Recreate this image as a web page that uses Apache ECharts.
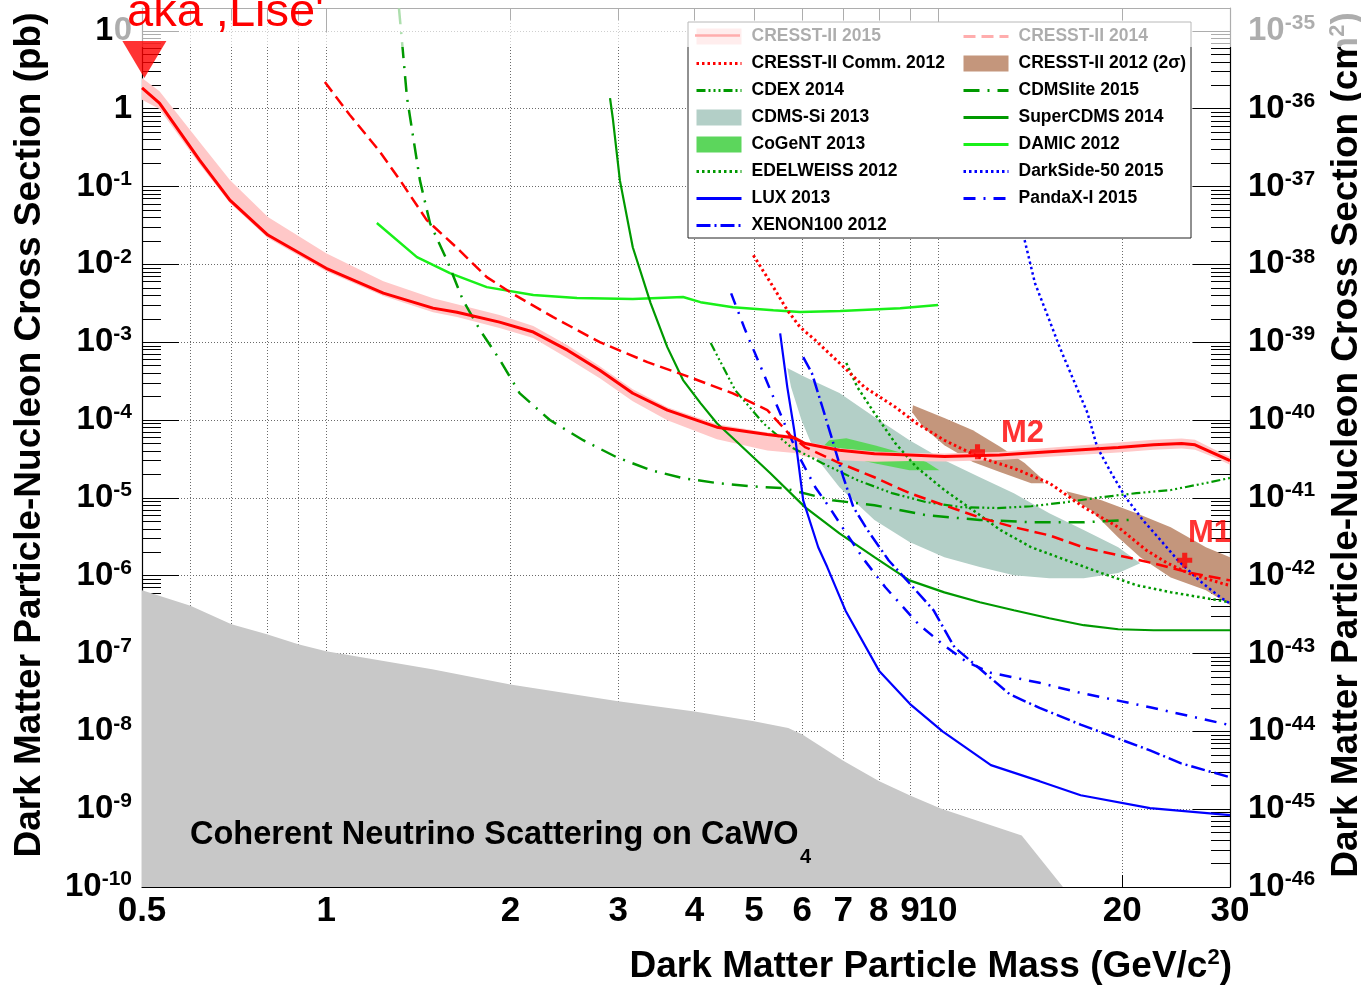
<!DOCTYPE html>
<html><head><meta charset="utf-8">
<script src="https://cdn.jsdelivr.net/npm/echarts@6/dist/echarts.min.js"></script>
<style>html,body{margin:0;padding:0;background:#fff}#c{width:1361px;height:986px}</style>
</head><body><div id="c"></div>
<script>
// ---------- axis ticks / labels ----------
const xLabelValues = [0.5,1,2,3,4,5,6,7,8,9,10,20,30];
const xLabelTexts = ['0.5','1','2','3','4','5','6','7','8','9','10','20','30'];
const xGridValues = [0.6,0.7,0.8,0.9,1,2,3,4,5,6,7,8,9,10,20];
const xMajorTickValues = [1,10];
const yDecadeExponents = [-10,-9,-8,-7,-6,-5,-4,-3,-2,-1,0,1];
const yTopValue = 19.68;          // pb at upper frame
const cm2ExponentOffset = -36;    // 1 pb = 1e-36 cm^2

// ---------- data (mass GeV/c^2, cross section pb) ----------
const cresst2015Mass = [0.5,0.534,0.621,0.696,0.803,1.0,1.24,1.495,1.636,1.92,2.18,2.48,2.80,3.17,3.61,4.35,5.26,5.82,6.06,6.9,7.87,8.98,10.24,12.6,15.2,19.7,22.5,25.0,26.3,28.3,30];
const cresst2015Sigma = [1.85,1.18,0.219,0.067,0.0238,0.0089,0.00427,0.00274,0.00243,0.00181,0.00135,7.9e-4,4.37e-4,2.21e-4,1.34e-4,8.1e-5,6.5e-5,5.9e-5,5.0e-5,4.1e-5,3.7e-5,3.55e-5,3.4e-5,3.55e-5,3.9e-5,4.45e-5,4.8e-5,5.0e-5,4.8e-5,3.7e-5,3.0e-5];
const cresst2015BandHigh = [2.49,1.68,0.373,0.121,0.0406,0.0139,0.00609,0.00368,0.00308,0.00223,0.00161,9.16e-4,4.92e-4,2.49e-4,1.46e-4,8.85e-5,6.9e-5,6.26e-5,5.3e-5,4.35e-5,3.93e-5,3.77e-5,3.72e-5,3.88e-5,4.39e-5,5.16e-5,5.56e-5,5.8e-5,5.56e-5,4.17e-5,3.38e-5];
const cresst2015BandLow = [1.30,0.988,0.194,0.0613,0.0218,0.00814,0.00391,0.00243,0.0021,0.00152,0.00113,6.24e-4,3.45e-4,1.74e-4,9.97e-5,5.68e-5,4.05e-5,3.78e-5,3.4e-5,3.05e-5,2.92e-5,2.97e-5,2.93e-5,3.06e-5,3.37e-5,3.84e-5,4.14e-5,4.31e-5,4.14e-5,3.29e-5,2.66e-5];

const cresst2014Mass = [0.995,1.093,1.22,1.32,1.46,1.63,1.83,2.01,2.35,2.80,3.35,3.93,4.62,5.26,5.73,6.06,6.90,7.87,8.98,10.24,11.7,13.3,15.2,17.3,19.7,22.5,25.7,30];
const cresst2014Sigma = [2.2,0.83,0.29,0.121,0.037,0.0167,0.00686,0.00427,0.0021,0.001,5.55e-4,3.55e-4,2.2e-4,1.34e-4,6.4e-5,4.5e-5,2.8e-5,1.84e-5,1.15e-5,8.0e-6,5.6e-6,4.2e-6,3.3e-6,2.3e-6,1.83e-6,1.44e-6,1.1e-6,8.7e-7];

const commMass = [4.99,5.38,5.67,5.95,6.30,6.90,7.58,8.51,9.22,10.24,11.7,13.3,15.2,17.3,19.7,21.9,23.7,25.7,29.2,30];
const commSigma = [0.0131,0.0051,0.00258,0.00156,0.00106,5.4e-4,2.65e-4,1.47e-4,9.1e-5,5.5e-5,3.3e-5,2.4e-5,1.55e-5,7.6e-6,4.2e-6,2.12e-6,1.45e-6,1.07e-6,7.9e-7,7.5e-7];

const m2RegionMass = [9.10,10.24,11.4,12.65,13.85,14.7,14.9,14.2,12.65,11.4,10.24,9.46,9.07];
const m2RegionSigma = [1.55e-4,1.06e-4,7.4e-5,4.5e-5,2.8e-5,1.84e-5,1.54e-5,1.54e-5,2.14e-5,2.88e-5,4.75e-5,8.1e-5,1.26e-4];
const m1RegionMass = [16.2,18.5,21.1,24.0,27.4,30,30,27.4,24.0,21.4,19.7,17.8,16.4];
const m1RegionSigma = [1.22e-5,9.3e-6,6.35e-6,4.2e-6,2.32e-6,1.73e-6,4.2e-7,6.5e-7,9.5e-7,1.73e-6,3.1e-6,6.9e-6,1.02e-5];
const bestFitMass = [11.6,25.3];
const bestFitSigma = [3.9e-5,1.58e-6];
const bestFitLabels = ['M2','M1'];

const cdmsSiMass = [5.67,6.06,6.90,7.87,8.98,10.24,11.7,13.3,15.2,17.3,19.7,21.4,19.7,17.3,15.2,13.3,11.7,10.24,8.98,7.87,6.90,6.37,5.98,5.75];
const cdmsSiSigma = [4.65e-4,3.56e-4,2.22e-4,1.09e-4,5.5e-5,3.05e-5,1.84e-5,1.15e-5,6.35e-6,3.85e-6,2.32e-6,1.45e-6,1.08e-6,9.3e-7,9.3e-7,1.01e-6,1.29e-6,1.73e-6,2.7e-6,5.2e-6,1.37e-5,3.05e-5,1.0e-4,2.65e-4];

const cogentMass = [6.64,7.08,7.87,8.74,9.57,10.05,8.98,7.87,7.08,6.64,6.47];
const cogentSigma = [5.5e-5,5.85e-5,4.75e-5,3.76e-5,2.88e-5,2.27e-5,2.27e-5,2.79e-5,3.34e-5,3.87e-5,4.48e-5];

const cdexMass = [4.25,4.66,5.18,5.75,6.47,7.38,8.41,9.57,10.9,12.5,14.2,16.2,18.5,21.1,24.0,27.4,30];
const cdexSigma = [9.75e-4,2.42e-4,9.1e-5,4.49e-5,2.79e-5,1.69e-5,1.15e-5,8.8e-6,7.6e-6,7.4e-6,7.8e-6,8.8e-6,1.02e-5,1.15e-5,1.26e-5,1.55e-5,1.8e-5];

const cdmsliteMass = [1.315,1.334,1.355,1.423,1.478,1.575,1.673,1.784,1.923,2.07,2.32,2.63,2.98,3.39,3.83,4.35,4.93,5.60,6.72,7.87,9.57,11.7,14.2,17.3,20.5];
const cdmsliteSigma = [19.5,5.68,1.41,0.12,0.0337,0.01135,0.00348,0.00143,5.9e-4,2.22e-4,1.0e-4,5.5e-5,3.34e-5,2.27e-5,1.79e-5,1.55e-5,1.41e-5,1.33e-5,9.3e-6,8.05e-6,5.98e-6,5.2e-6,4.87e-6,4.87e-6,5.2e-6];

const superCdmsMass = [2.91,2.94,3.02,3.17,3.39,3.61,3.83,4.09,4.35,4.66,5.32,6.06,6.90,7.87,8.98,10.24,11.7,13.3,15.2,17.3,19.7,22.5,30];
const superCdmsSigma = [1.37,0.76,0.12,0.0166,0.00318,8.65e-4,3.26e-4,1.65e-4,9.1e-5,5.5e-5,2.07e-5,7.6e-6,3.5e-6,1.73e-6,8.7e-7,6.1e-7,4.56e-7,3.6e-7,2.84e-7,2.31e-7,2.05e-7,1.99e-7,1.99e-7];

const damicMass = [1.21,1.407,1.593,1.83,2.18,2.57,3.17,3.83,4.09,4.62,5.38,5.95,6.92,8.67,10.0];
const damicSigma = [0.034,0.0124,0.0077,0.0051,0.00403,0.00369,0.00358,0.0038,0.00327,0.00282,0.00258,0.00244,0.00251,0.00274,0.003];

const edelweissMass = [7.08,7.38,7.87,8.51,9.22,10.24,11.4,12.65,14.2,16.2,18.5,21.1,24.0,27.4,30];
const edelweissSigma = [5.4e-4,2.65e-4,1.23e-4,5.05e-5,2.48e-5,1.26e-5,6.95e-6,3.85e-6,2.32e-6,1.58e-6,1.08e-6,7.55e-7,6.14e-7,5.14e-7,4.56e-7];

const luxMass = [5.52,5.67,5.82,6.02,6.37,6.59,7.06,8.02,9.0,10.17,12.2,14.65,17.1,22.2,30];
const luxSigma = [0.0013,2.65e-4,7.4e-5,9.3e-6,2.32e-6,1.29e-6,3.55e-7,5.9e-8,2.24e-8,1.0e-8,3.68e-9,2.29e-9,1.51e-9,1.03e-9,8.4e-10];

const xenonMass = [6.02,6.22,6.47,6.72,7.0,7.27,7.67,8.30,8.98,9.83,10.64,11.65,13.1,14.65,17.1,22.2,24.9,30];
const xenonSigma = [6.43e-4,4.0e-4,1.47e-4,5.5e-5,1.85e-5,7.6e-6,3.85e-6,1.58e-6,8.0e-7,3.6e-7,1.2e-7,6.56e-8,2.99e-8,2.0e-8,1.22e-8,5.7e-9,3.9e-9,2.57e-9];

const pandaxMass = [4.59,4.84,5.10,5.38,5.67,5.97,6.30,6.64,7.08,7.58,8.20,9.29,10.17,11.1,12.2,14.65,17.1,22.2,30];
const pandaxSigma = [0.00424,0.00143,5.4e-4,1.97e-4,7.4e-5,3.05e-5,1.37e-5,7.6e-6,3.5e-6,1.58e-6,7.1e-7,2.38e-7,1.32e-7,7.9e-8,5.66e-8,4.2e-8,3.12e-8,2.04e-8,1.2e-8];

const darksideMass = [13.85,14.4,15.2,15.8,16.65,17.55,18.2,19.2,20.25,21.6,23.1,24.65,26.7,28.9,30];
const darksideSigma = [0.0205,0.00574,0.00192,8.65e-4,3.26e-4,1.23e-4,4.49e-5,2.07e-5,1.02e-5,5.2e-6,2.86e-6,1.58e-6,8.75e-7,5.3e-7,4.4e-7];

const neutrinoMass = [0.5,0.6,0.7,0.8,0.9,1.0,1.49,2.0,3.0,4.0,5.0,5.69,6.0,7.0,8.0,9.0,10.1,13.7,16.0];
const neutrinoSigma = [6.5e-7,4.1e-7,2.38e-7,1.77e-7,1.32e-7,1.07e-7,6.3e-8,4.0e-8,2.44e-8,1.8e-8,1.35e-8,1.1e-8,9.1e-9,4.2e-9,2.3e-9,1.5e-9,1.02e-9,4.6e-10,1e-10];

const liseMass = [0.5045];
const liseSigma = [4.29];

// ---------- helpers ----------
const L = Math.log10;
const FONT = 'Liberation Sans';
const X_MIN = L(0.5), X_MAX = L(30), Y_MIN = -10, Y_MAX = L(yTopValue);
function pts(ms, ss) { return ms.map((m, i) => [L(m), L(ss[i])]); }

const yMinorValues = [];
yDecadeExponents.forEach(n => { for (let k = 2; k <= 9; k++) { const v = n + L(k); if (v < Y_MAX) yMinorValues.push(v); } });

const RED = '#ff0000', GREEN = '#009900', LGREEN = '#19f019', BLUE = '#0000ff';

function lineSeries(name, ms, ss, color, type, width) {
  return { type: 'line', name, data: pts(ms, ss), symbol: 'none', showSymbol: false, smooth: false,
    lineStyle: { color, type, width, cap: 'butt' }, itemStyle: { color }, z: 5, silent: true };
}
function polySeries(name, polys, color, z) {
  return { type: 'custom', name, data: [[L(polys[0][0][0]), L(polys[0][1][0])]], z: z || 3,
    itemStyle: { color }, silent: true,
    renderItem: function (params, api) {
      if (params.dataIndex !== 0) return null;
      return { type: 'group', children: polys.map(p => ({
        type: 'polygon',
        shape: { points: p[0].map((m, i) => api.coord([L(m), L(p[1][i])])) },
        style: { fill: color, stroke: null }
      })) };
    } };
}

const bandPolyMass = cresst2015Mass.concat(cresst2015Mass.slice().reverse());
const bandPolySigma = cresst2015BandHigh.concat(cresst2015BandLow.slice().reverse());

const axisLineStyle = { color: '#000', width: 1.2 };
const tickStyle = { color: '#000', width: 1 };
const baseX = { type: 'value', min: X_MIN, max: X_MAX, gridIndex: 0 };
const baseY = { type: 'value', min: Y_MIN, max: Y_MAX, gridIndex: 0 };
const richY = {
  b: { fontSize: 33, fontWeight: 'bold', fontFamily: FONT, color: '#000', lineHeight: 36 },
  s: { fontSize: 21, fontWeight: 'bold', fontFamily: FONT, color: '#000', verticalAlign: 'top' }
};
function noLabel() { return { show: false }; }
const hideSym = { opacity: 0 };
function lineItem(name) { return { name, itemStyle: hideSym }; }

const legendText = { fontSize: 17.5, fontWeight: 'bold', fontFamily: FONT, color: '#000', lineHeight: 18, padding: [0, 0, 0, 5] };
const legendBase = { top: 27.5, orient: 'vertical', padding: 0, itemWidth: 45, itemHeight: 16, itemGap: 9, selectedMode: false,
  textStyle: legendText, lineStyle: { width: 3 } };

const option = {
  animation: false,
  backgroundColor: '#fff',
  grid: { left: 142, right: 131, top: 8, bottom: 99, containLabel: false, outerBoundsMode: 'none' },
  xAxis: [
    Object.assign({}, baseX, { position: 'bottom',
      axisLine: { show: true, onZero: false, lineStyle: axisLineStyle },
      axisTick: { show: true, inside: true, length: 12, customValues: xGridValues.map(L), lineStyle: tickStyle },
      splitLine: { show: true, lineStyle: { color: '#6a6a6a', type: [1, 2], width: 1 } },
      axisLabel: { show: true, customValues: xLabelValues.map(L), margin: 7, fontSize: 35, fontWeight: 'bold', fontFamily: FONT, color: '#000',
        formatter: v => { const i = xLabelValues.findIndex(x => Math.abs(L(x) - v) < 1e-6); return i >= 0 ? xLabelTexts[i] : ''; } } }),
    Object.assign({}, baseX, { position: 'bottom', axisLine: { show: false, onZero: false },
      axisTick: { show: true, inside: true, length: 24, customValues: xMajorTickValues.map(L), lineStyle: tickStyle },
      splitLine: { show: false }, axisLabel: noLabel() }),
    Object.assign({}, baseX, { position: 'top', axisLine: { show: true, onZero: false, lineStyle: axisLineStyle },
      axisTick: { show: true, inside: true, length: 12, customValues: xGridValues.map(L), lineStyle: tickStyle },
      splitLine: { show: false }, axisLabel: noLabel() }),
    Object.assign({}, baseX, { position: 'top', axisLine: { show: false, onZero: false },
      axisTick: { show: true, inside: true, length: 24, customValues: xMajorTickValues.map(L), lineStyle: tickStyle },
      splitLine: { show: false }, axisLabel: noLabel() })
  ],
  yAxis: [
    Object.assign({}, baseY, { position: 'left',
      axisLine: { show: true, onZero: false, lineStyle: axisLineStyle },
      axisTick: { show: true, inside: true, length: 37, customValues: yDecadeExponents, lineStyle: tickStyle },
      splitLine: { show: true, lineStyle: { color: '#6a6a6a', type: [1, 2], width: 1 } },
      axisLabel: { show: true, customValues: yDecadeExponents, margin: 10, rich: richY,
        formatter: v => { const n = Math.round(v); if (n === 0) return '{b|1}'; if (n === 1) return '{b|10}'; return '{b|10}{s|' + n + '}'; } } }),
    Object.assign({}, baseY, { position: 'left', axisLine: { show: false, onZero: false },
      axisTick: { show: true, inside: true, length: 19, customValues: yMinorValues, lineStyle: tickStyle },
      splitLine: { show: false }, axisLabel: noLabel() }),
    Object.assign({}, baseY, { position: 'right',
      axisLine: { show: true, onZero: false, lineStyle: axisLineStyle },
      axisTick: { show: true, inside: true, length: 37, customValues: yDecadeExponents, lineStyle: tickStyle },
      splitLine: { show: false },
      axisLabel: { show: true, customValues: yDecadeExponents, margin: 18, rich: richY,
        formatter: v => { const n = Math.round(v) + cm2ExponentOffset; return '{b|10}{s|' + n + '}'; } } }),
    Object.assign({}, baseY, { position: 'right', axisLine: { show: false, onZero: false },
      axisTick: { show: true, inside: true, length: 19, customValues: yMinorValues, lineStyle: tickStyle },
      splitLine: { show: false }, axisLabel: noLabel() })
  ],
  legend: [
    Object.assign({}, legendBase, { left: 695,
      data: [
        { name: 'CRESST-II 2015', icon: 'rect', itemStyle: { color: '#ffc8c8' } },
        lineItem('CRESST-II Comm. 2012'), lineItem('CDEX 2014'),
        { name: 'CDMS-Si 2013', icon: 'rect' },
        { name: 'CoGeNT 2013', icon: 'rect' },
        lineItem('EDELWEISS 2012'), lineItem('LUX 2013'), lineItem('XENON100 2012')] }),
    Object.assign({}, legendBase, { left: 962,
      data: [lineItem('CRESST-II 2014'),
        { name: 'CRESST-II 2012 (2\u03c3)', icon: 'rect' },
        lineItem('CDMSlite 2015'), lineItem('SuperCDMS 2014'), lineItem('DAMIC 2012'), lineItem('DarkSide-50 2015'), lineItem('PandaX-I 2015')] })
  ],
  series: [
    { type: 'line', name: 'neutrino floor', data: pts(neutrinoMass, neutrinoSigma), symbol: 'none', silent: true,
      lineStyle: { width: 0 }, areaStyle: { color: '#c8c8c8', opacity: 1, origin: 'start' }, z: 2 },
    polySeries('CDMS-Si 2013', [[cdmsSiMass, cdmsSiSigma]], '#b3cfc7', 3),
    polySeries('CRESST-II 2012 (2\u03c3)', [[m2RegionMass, m2RegionSigma], [m1RegionMass, m1RegionSigma]], '#c4967c', 3),
    polySeries('CoGeNT 2013', [[cogentMass, cogentSigma]], '#5cd65c', 3),
    polySeries('CRESST-II 2015 band', [[bandPolyMass, bandPolySigma]], '#ffc8c8', 3),
    lineSeries('DAMIC 2012', damicMass, damicSigma, LGREEN, 'solid', 2.5),
    lineSeries('CDMSlite 2015', cdmsliteMass, cdmsliteSigma, GREEN, [16, 8, 2, 8], 2.5),
    lineSeries('SuperCDMS 2014', superCdmsMass, superCdmsSigma, GREEN, 'solid', 2.2),
    lineSeries('CDEX 2014', cdexMass, cdexSigma, GREEN, [9, 3, 2, 3, 2, 3, 2, 3], 2.2),
    lineSeries('EDELWEISS 2012', edelweissMass, edelweissSigma, GREEN, [2.5, 3], 2.5),
    lineSeries('LUX 2013', luxMass, luxSigma, BLUE, 'solid', 2.2),
    lineSeries('XENON100 2012', xenonMass, xenonSigma, BLUE, [14, 4, 2, 4], 2.5),
    lineSeries('PandaX-I 2015', pandaxMass, pandaxSigma, BLUE, [12, 8, 2, 8], 2.5),
    lineSeries('DarkSide-50 2015', darksideMass, darksideSigma, BLUE, [2.5, 3], 2.5),
    lineSeries('CRESST-II Comm. 2012', commMass, commSigma, RED, [2.5, 3], 3),
    lineSeries('CRESST-II 2014', cresst2014Mass, cresst2014Sigma, RED, [12, 6], 2.5),
    lineSeries('CRESST-II 2015', cresst2015Mass, cresst2015Sigma, RED, 'solid', 3),
    { type: 'scatter', name: 'best fit', data: pts(bestFitMass, bestFitSigma), silent: true, z: 6,
      symbol: 'path://M0,3.3 L3.3,3.3 L3.3,0 L6.7,0 L6.7,3.3 L10,3.3 L10,6.7 L6.7,6.7 L6.7,10 L3.3,10 L3.3,6.7 L0,6.7 Z',
      symbolSize: 15, itemStyle: { color: RED },
      label: { show: true, formatter: p => bestFitLabels[p.dataIndex], color: RED, fontSize: 31, fontWeight: 'bold', fontFamily: FONT,
        position: 'right', distance: 0 },
      labelLayout: p => (p.dataIndex === 0 ? { x: 1001, y: 433, align: 'left', verticalAlign: 'middle' } : { x: 1188, y: 533, align: 'left', verticalAlign: 'middle' }) },
    { type: 'scatter', name: 'Lise', data: pts(liseMass, liseSigma), silent: true, z: 60, clip: false,
      symbol: 'triangle', symbolRotate: 180, symbolSize: [44, 37], itemStyle: { color: RED } }
  ],
  graphic: [
    { type: 'rect', z: 3, silent: true, shape: { x: 688, y: 22, width: 503, height: 216 }, style: { fill: '#fff', stroke: '#222', lineWidth: 1 } },
    { type: 'line', z: 10, silent: true, shape: { x1: 695, y1: 35.5, x2: 740, y2: 35.5 }, style: { stroke: RED, lineWidth: 2.5 } },
    { type: 'rect', z: 50, silent: true, shape: { x: 112, y: 0, width: 1249, height: 47 }, style: { fill: 'rgba(255,255,255,0.68)' } },
    { type: 'text', z: 70, silent: true, x: 127, y: 13, style: { text: 'aka ,Lise\'', fill: RED, font: '47px "Liberation Sans"', textAlign: 'left', textVerticalAlign: 'middle' } },
    { type: 'text', z: 10, silent: true, x: 30, y: 435, rotation: Math.PI / 2,
      style: { text: 'Dark Matter Particle-Nucleon Cross Section (pb)', fill: '#000', font: 'bold 37px "Liberation Sans"', textAlign: 'center', textVerticalAlign: 'middle' } },
    { type: 'text', z: 10, silent: true, x: 1347, y: 445, rotation: Math.PI / 2,
      style: { text: '{a|Dark Matter Particle-Nucleon Cross Section (cm}{s|2}{a|)}', textAlign: 'center', textVerticalAlign: 'middle',
        rich: { a: { fontSize: 37, fontWeight: 'bold', fontFamily: FONT, fill: '#000', lineHeight: 40 }, s: { fontSize: 22, fontWeight: 'bold', fontFamily: FONT, fill: '#000', verticalAlign: 'top' } } } },
    { type: 'text', z: 10, silent: true, x: 1232, y: 967,
      style: { text: '{a|Dark Matter Particle Mass (GeV/c}{s|2}{a|)}', textAlign: 'right', textVerticalAlign: 'middle',
        rich: { a: { fontSize: 37, fontWeight: 'bold', fontFamily: FONT, fill: '#000', lineHeight: 40 }, s: { fontSize: 22, fontWeight: 'bold', fontFamily: FONT, fill: '#000', verticalAlign: 'top' } } } },
    { type: 'text', z: 10, silent: true, x: 190, y: 835,
      style: { text: 'Coherent Neutrino Scattering on CaWO', fill: '#000', font: 'bold 32.5px "Liberation Sans"', textAlign: 'left', textVerticalAlign: 'middle' } },
    { type: 'text', z: 10, silent: true, x: 800, y: 857,
      style: { text: '4', fill: '#000', font: 'bold 20px "Liberation Sans"', textAlign: 'left', textVerticalAlign: 'middle' } }
  ]
};

const chart = echarts.init(document.getElementById('c'), null, { renderer: 'canvas' });
chart.setOption(option);
</script></body></html>
